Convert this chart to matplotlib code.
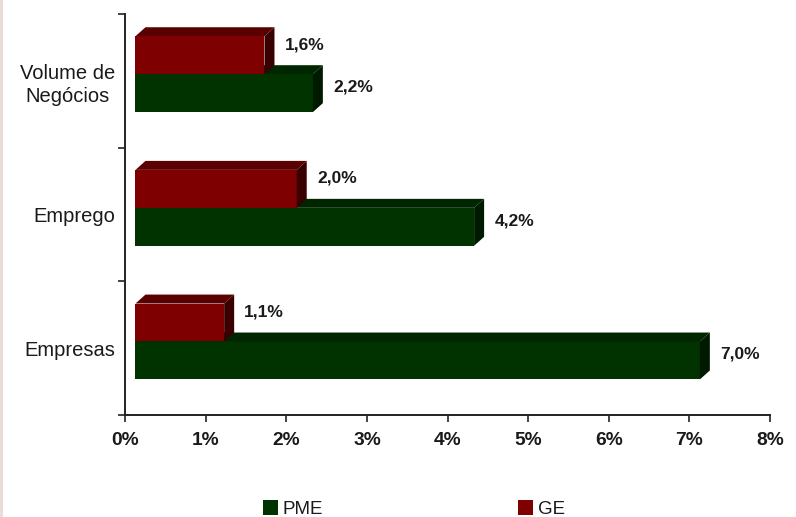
import matplotlib
matplotlib.use("Agg")
import matplotlib.pyplot as plt
from matplotlib.patches import Polygon, Rectangle, Patch

plt.rcParams['font.family'] = ['Liberation Sans', 'DejaVu Sans']

# ---- data ----
categories = ["Empresas", "Emprego", "Volume de\nNegócios"]
pme = [7.0, 4.2, 2.2]
ge = [1.1, 2.0, 1.6]
pme_labels = ["7,0%", "4,2%", "2,2%"]
ge_labels = ["1,1%", "2,0%", "1,6%"]
xticks = [0, 1, 2, 3, 4, 5, 6, 7, 8]
xticklabels = ["0%", "1%", "2%", "3%", "4%", "5%", "6%", "7%", "8%"]

W, H = 796, 517
fig = plt.figure(figsize=(W / 100, H / 100), dpi=100)
ax = fig.add_axes([125 / W, (H - 415) / H, 645 / W, 401 / H])
ax.set_xlim(0, 8)
ax.set_ylim(-0.5, 2.5)

# 3D bar geometry (in data units)
x0 = 0.13
dx = 0.124
dy = 0.067
h = 0.284
split = 0.05

colors = {
    "PME": ("#003300", "#002600", "#001a00"),
    "GE": ("#7f0000", "#5a0000", "#3a0000"),
}
txt = '#1a1a1a'


def bar3d(v, yb, cols):
    front, top, side = cols
    yt = yb + h
    ax.add_patch(Rectangle((x0, yb), v, h, facecolor=front, edgecolor='none', zorder=3))
    ax.add_patch(Polygon([(x0, yt), (x0 + v, yt), (x0 + v + dx, yt + dy), (x0 + dx, yt + dy)],
                         closed=True, facecolor=top, edgecolor='none', zorder=3))
    ax.add_patch(Polygon([(x0 + v, yb), (x0 + v + dx, yb + dy), (x0 + v + dx, yt + dy), (x0 + v, yt)],
                         closed=True, facecolor=side, edgecolor='none', zorder=3))


for i, (p, g) in enumerate(zip(pme, ge)):
    yc = i + split
    bar3d(p, yc - h, colors["PME"])
    bar3d(g, yc, colors["GE"])
    ax.text(p + 0.38, i - 0.045, pme_labels[i], ha='left', va='center',
            fontsize=12.5, fontweight='bold', color=txt)
    ax.text(g + 0.38, i + 0.27, ge_labels[i], ha='left', va='center',
            fontsize=12.5, fontweight='bold', color=txt)

# axes styling
for s in ['top', 'right']:
    ax.spines[s].set_visible(False)
for s in ['left', 'bottom']:
    ax.spines[s].set_color('#222222')
    ax.spines[s].set_linewidth(1.4)

ax.set_xticks(xticks)
ax.set_xticklabels(xticklabels, fontsize=13.8, fontweight='bold', color=txt)
ax.tick_params(axis='x', direction='out', length=5, width=1.2, pad=7, color='#222222')

ax.set_yticks([-0.5, 0.5, 1.5, 2.5])
ax.set_yticklabels([])
ax.tick_params(axis='y', which='major', direction='out', length=5, width=1.2, color='#222222')
ax.set_yticks([0, 1, 2], minor=True)
ax.set_yticklabels(categories, minor=True, fontsize=14.5, color=txt)
ax.tick_params(axis='y', which='minor', length=0, pad=7)
for lbl in ax.get_yticklabels(minor=True):
    lbl.set_multialignment('center')
    lbl.set_linespacing(1.25)

# legend
handles = [Patch(facecolor=colors["PME"][0], label="PME"),
           Patch(facecolor=colors["GE"][0], label="GE")]
fig.legend(handles=handles, loc='center', bbox_to_anchor=(414 / W, 1 - 509 / H),
           ncol=2, frameon=False, fontsize=13.5, handlelength=0.8, handleheight=0.8,
           handletextpad=0.25, columnspacing=10.4, borderpad=0, labelcolor=txt)

# faint strip at left edge
fig.add_artist(Rectangle((0, 0), 3 / W, 1, transform=fig.transFigure,
                         facecolor='#eadcd6', edgecolor='none'))

fig.savefig("out.png", dpi=100)
